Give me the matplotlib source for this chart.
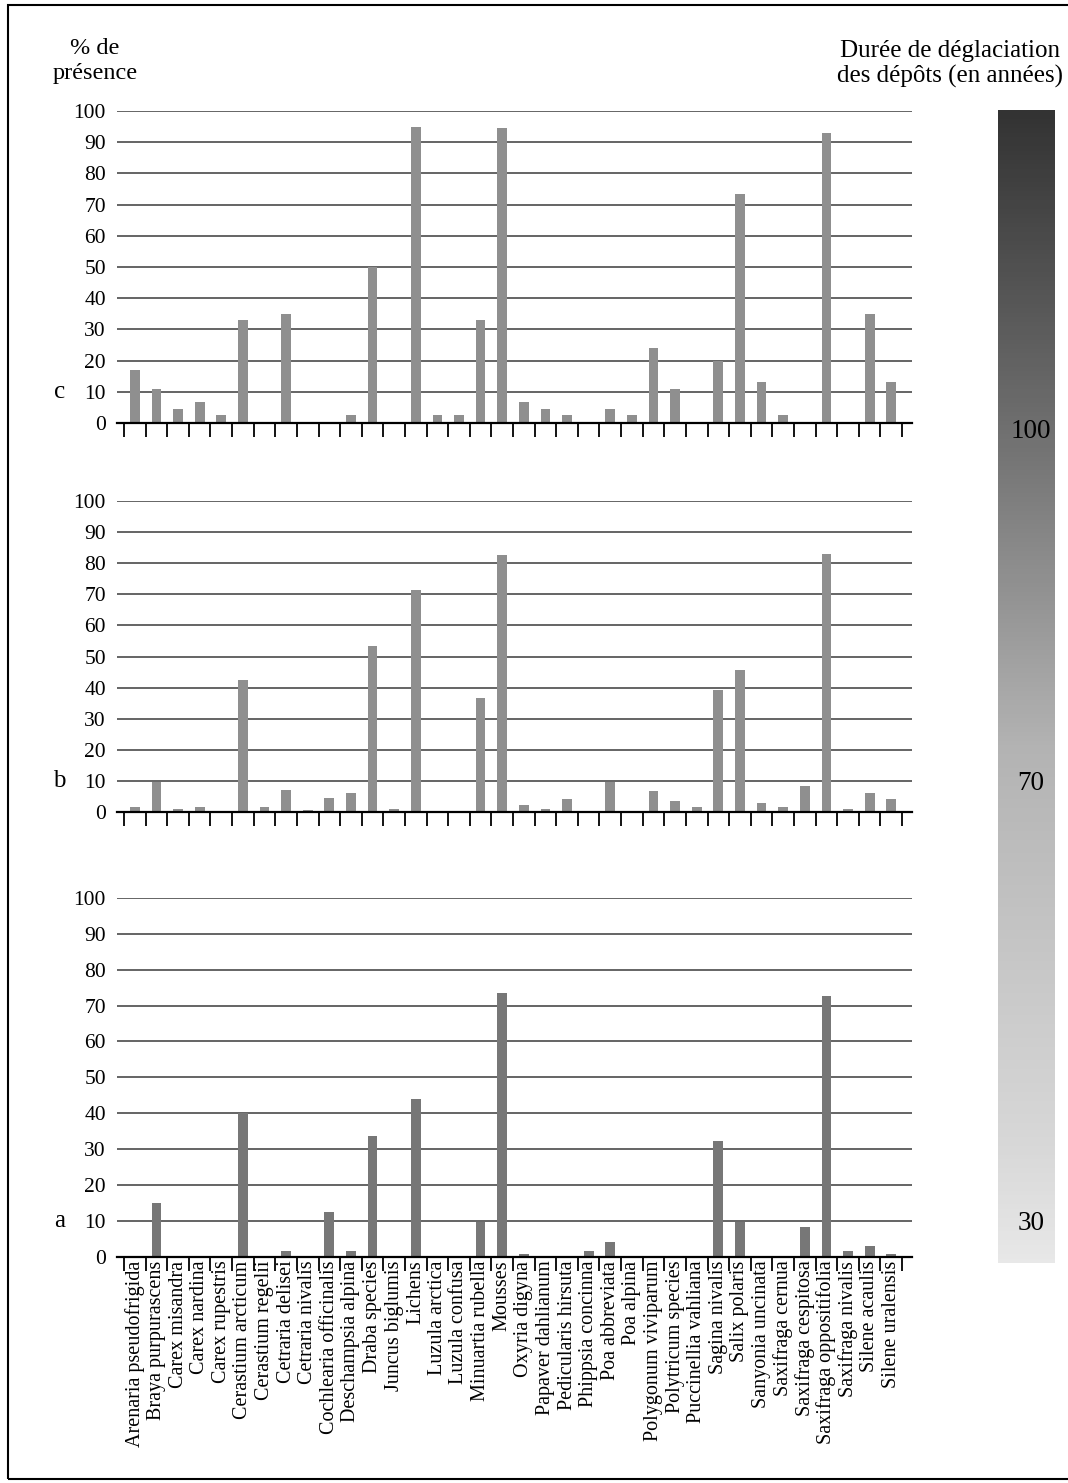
import numpy as np
import matplotlib
matplotlib.use('Agg')
import matplotlib.pyplot as plt
from matplotlib.colors import LinearSegmentedColormap
from matplotlib.patches import Rectangle
from matplotlib.transforms import blended_transform_factory

plt.rcParams['font.family'] = ['Liberation Serif', 'DejaVu Serif']

especes = ['Arenaria pseudofrigida', 'Braya purpurascens', 'Carex misandra', 'Carex nardina',
           'Carex rupestris', 'Cerastium arcticum', 'Cerastium regelii', 'Cetraria delisei',
           'Cetraria nivalis', 'Cochlearia officinalis', 'Deschampsia alpina', 'Draba species',
           'Juncus biglumis', 'Lichens', 'Luzula arctica', 'Luzula confusa', 'Minuartia rubella',
           'Mousses', 'Oxyria digyna', 'Papaver dahlianum', 'Pedicularis hirsuta',
           'Phippsia concinna', 'Poa abbreviata', 'Poa alpina', 'Polygonum viviparum',
           'Polytricum species', 'Puccinellia vahliana', 'Sagina nivalis', 'Salix polaris',
           'Sanyonia uncinata', 'Saxifraga cernua', 'Saxifraga cespitosa',
           'Saxifraga oppositifolia', 'Saxifraga nivalis', 'Silene acaulis', 'Silene uralensis']

# % de presence, panneau c (depots les plus anciens)
val_c = [17, 11, 4.5, 6.7, 2.5, 33, 0, 35, 0, 0, 2.5, 50, 0, 95, 2.5, 2.5, 33,
         94.5, 6.7, 4.5, 2.5, 0, 4.5, 2.5, 24, 11, 0, 20, 73.5, 13, 2.5, 0,
         93, 0, 35, 13]
# panneau b
val_b = [1.5, 9.7, 0.9, 1.5, 0, 42.3, 1.5, 7, 0.5, 4.4, 6, 53.3, 0.9, 71.3, 0, 0, 36.6,
         82.5, 2.1, 0.9, 4.1, 0, 9.7, 0, 6.7, 3.4, 1.5, 39.3, 45.5, 2.8, 1.5, 8.3,
         82.8, 0.9, 6, 4.1]
# panneau a (depots les plus recents)
val_a = [0, 15, 0, 0, 0, 40, 0, 1.5, 0, 12.4, 1.5, 33.6, 0, 44, 0, 0, 9.7,
         73.4, 0.7, 0, 0, 1.5, 4, 0, 0, 0, 0, 32.2, 9.7, 0, 0, 8.3,
         72.8, 1.5, 3, 0.7]

yticks = [0, 10, 20, 30, 40, 50, 60, 70, 80, 90, 100]
cbar_labels = ['100', '70', '30']

W, H = 1068, 1483
fig = plt.figure(figsize=(W / 100, H / 100), dpi=100)

x = np.arange(len(especes))


def panneau(bottom_px, top_px, valeurs, couleur, lettre, labels=False):
    ax = fig.add_axes([117 / W, 1 - bottom_px / H, 795 / W, (bottom_px - top_px) / H])
    for yv in yticks[1:]:
        ax.axhline(yv, color='#3a3a3a', lw=1.1, zorder=1)
    ax.bar(x, valeurs, width=0.45, color=couleur, zorder=2)
    ax.set_xlim(-0.824, 35.96)
    ax.set_ylim(0, 100)
    for s in ['top', 'right', 'left']:
        ax.spines[s].set_visible(False)
    ax.spines['bottom'].set_linewidth(1.6)
    ax.spines['bottom'].set_zorder(3)
    ax.set_yticks(yticks)
    ax.tick_params(axis='y', length=0, pad=8, labelsize=15.5)
    ax.set_xticks(np.arange(len(especes) + 1) - 0.5)
    ax.set_xticklabels([])
    ax.tick_params(axis='x', which='major', direction='out', length=10, width=1.3)
    if labels:
        ax.set_xticks(x, minor=True)
        ax.set_xticklabels(especes, minor=True, rotation=90, fontsize=14.5)
        ax.tick_params(axis='x', which='minor', length=0, pad=3)
    tr = blended_transform_factory(ax.transAxes, ax.transData)
    ax.text(-0.072, 10, lettre, transform=tr, ha='center', va='center', fontsize=18)
    return ax


panneau(423, 111, val_c, '#8f8f8f', 'c')
panneau(812, 501, val_b, '#8f8f8f', 'b')
panneau(1256.5, 898, val_a, '#777777', 'a', labels=True)

fig.text(95 / W, 1 - 61 / H, '% de\nprésence', ha='center', va='center', fontsize=17.5,
         linespacing=1.25)
fig.text(950 / W, 1 - 64 / H, 'Durée de déglaciation\ndes dépôts (en années)',
         ha='center', va='center', fontsize=18, linespacing=1.2)

# barre de degrade
cax = fig.add_axes([998 / W, 1 - 1263 / H, 57 / W, (1263 - 110) / H])
cmap = LinearSegmentedColormap.from_list(
    'deglac', [(0, '#e8e8e8'), (0.1, '#d8d8d8'), (0.45, '#b3b3b3'),
               (0.73, '#6e6e6e'), (1, '#333333')])
grad = np.linspace(0, 1, 256).reshape(-1, 1)
cax.imshow(grad, cmap=cmap, aspect='auto', origin='lower', extent=[0, 1, 0, 1])
cax.set_axis_off()
for lab, yp in zip(cbar_labels, [432, 783, 1223]):
    fig.text(1031 / W, 1 - yp / H, lab, ha='center', va='center', fontsize=19.5)

# cadre
fig.patches.append(Rectangle((8 / W, 1 - 1479 / H), 1.2, (1479 - 5) / H,
                             transform=fig.transFigure, fill=False,
                             edgecolor='black', lw=1.5))

fig.savefig('out.png', dpi=100)
